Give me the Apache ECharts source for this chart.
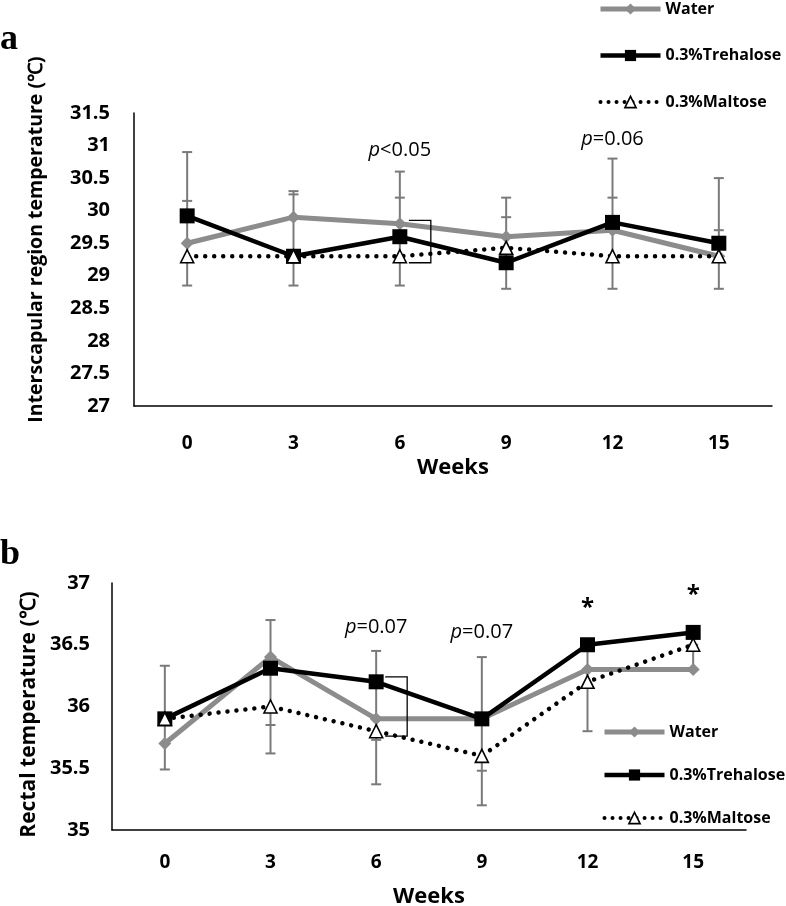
<!DOCTYPE html>
<html>
<head>
<meta charset="utf-8">
<script src="https://cdn.jsdelivr.net/npm/echarts@6/dist/echarts.min.js"></script>
<style>html,body{margin:0;padding:0;background:#fff}#c{width:786px;height:906px}</style>
</head>
<body>
<div id="c"></div>
<script>
// ---- data ----
const weeks = ['0', '3', '6', '9', '12', '15'];
const seriesNames = ['Water', '0.3%Trehalose', '0.3%Maltose'];

// Panel a: interscapular region temperature
const waterA = [29.5, 29.9, 29.8, 29.6, 29.7, 29.3];
const trehaloseA = [29.92, 29.3, 29.6, 29.2, 29.82, 29.5];
const maltoseA = [29.3, 29.3, 29.3, 29.43, 29.3, 29.3];
const errCapsA = [[30.9, 30.15, 28.85], [30.3, 30.25, 28.85], [30.6, 30.2, 28.85], [30.2, 29.9, 28.8], [30.8, 30.2, 28.8], [30.5, 29.7, 28.8]];
const bracketA = [[2, 29.85, 29.2]];
const pNotesA = [[2, 30.93, '<0.05'], [4, 31.09, '=0.06']];

// Panel b: rectal temperature
const waterB = [35.7, 36.4, 35.9, 35.9, 36.3, 36.3];
const trehaloseB = [35.9, 36.31, 36.2, 35.9, 36.5, 36.6];
const maltoseB = [35.9, 36.0, 35.8, 35.6, 36.2, 36.5];
const errCapsB = [[36.33, 35.49], [36.7, 35.85, 35.62], [36.45, 35.73, 35.37], [36.4, 35.48, 35.2], [36.5, 35.8], [36.5, 36.3]];
const bracketB = [[2, 36.24, 35.76]];
const pNotesB = [[2, 36.64, '=0.07'], [3, 36.6, '=0.07']];
const starsB = [[4, 36.8], [5, 36.9]];

const yTicksA = {min: 27, max: 31.5, interval: 0.5};
const yTicksB = {min: 35, max: 37, interval: 0.5};

// ---- styles ----
const FONT = 'Open Sans';
const GRAY = '#8c8c8c';
const ERR = '#7a7a7a';

function lineSeries(name, data, gi) {
  const base = {
    name: name, type: 'line', data: data, xAxisIndex: gi, yAxisIndex: gi,
    animation: false, showSymbol: true
  };
  if (name === 'Water') {
    return Object.assign(base, {symbol: 'diamond', symbolSize: 13, z: 3,
      lineStyle: {color: GRAY, width: 5}, itemStyle: {color: GRAY}});
  }
  if (name === '0.3%Trehalose') {
    return Object.assign(base, {symbol: 'rect', symbolSize: 15, z: 4,
      lineStyle: {color: '#000', width: 4.5}, itemStyle: {color: '#000'}});
  }
  return Object.assign(base, {symbol: 'triangle', symbolSize: 13, z: 5,
    lineStyle: {color: '#000', width: 4.5, type: [0.01, 9], cap: 'round'},
    itemStyle: {color: '#fff', borderColor: '#000', borderWidth: 1.6}});
}

function errSeries(caps, gi) {
  return {
    type: 'custom', xAxisIndex: gi, yAxisIndex: gi, z: 2, animation: false, silent: true,
    data: caps.map((c, i) => [i, Math.min.apply(null, c), Math.max.apply(null, c)]),
    renderItem: function (params, api) {
      const i = api.value(0);
      const lo = api.coord([i, api.value(1)]);
      const hi = api.coord([i, api.value(2)]);
      const children = [{type: 'line', shape: {x1: lo[0], y1: lo[1], x2: hi[0], y2: hi[1]},
        style: {stroke: ERR, lineWidth: 2}}];
      caps[params.dataIndex].forEach(v => {
        const p = api.coord([i, v]);
        children.push({type: 'line', shape: {x1: p[0] - 5, y1: p[1], x2: p[0] + 5, y2: p[1]},
          style: {stroke: ERR, lineWidth: 2}});
      });
      return {type: 'group', children: children};
    }
  };
}

function bracketSeries(data, gi) {
  return {
    type: 'custom', xAxisIndex: gi, yAxisIndex: gi, z: 6, animation: false, silent: true,
    data: data,
    renderItem: function (params, api) {
      const t = api.coord([api.value(0), api.value(1)]);
      const b = api.coord([api.value(0), api.value(2)]);
      return {type: 'polyline', shape: {points: [[t[0] + 9, t[1]], [t[0] + 31, t[1]], [t[0] + 31, b[1]], [t[0] + 9, b[1]]]},
        style: {stroke: '#000', lineWidth: 1.3, fill: null}};
    }
  };
}

function noteSeries(data, gi) {
  return {
    type: 'scatter', xAxisIndex: gi, yAxisIndex: gi, symbolSize: 0, z: 7, animation: false, silent: true,
    itemStyle: {opacity: 1},
    data: data.map(d => ({value: [d[0], d[1]], note: d[2]})),
    label: {show: true, position: 'inside', color: '#000', opacity: 1, textBorderWidth: 0,
      formatter: p => '{i|p}{n|' + p.data.note + '}',
      rich: {
        i: {fontFamily: FONT, fontStyle: 'italic', fontSize: 20, color: '#000'},
        n: {fontFamily: FONT, fontSize: 20, color: '#000'}
      }}
  };
}

function starSeries(data, gi) {
  return {
    type: 'scatter', xAxisIndex: gi, yAxisIndex: gi, symbolSize: 0, z: 7, animation: false, silent: true,
    itemStyle: {opacity: 1},
    data: data,
    label: {show: true, position: 'inside', formatter: '*', fontFamily: FONT, fontWeight: 'bold',
      fontSize: 24, color: '#000', opacity: 1, textBorderWidth: 0}
  };
}

const axisLine = {show: true, lineStyle: {color: '#000', width: 1.5}};
const tickFont = {fontFamily: FONT, fontWeight: 'bold', color: '#000'};
const nameFont = {fontFamily: FONT, fontWeight: 'bold', color: '#000'};

function xAxis(gi, margin, gap) {
  return {type: 'category', gridIndex: gi, data: weeks, boundaryGap: true,
    axisLine: axisLine, axisTick: {show: false}, splitLine: {show: false},
    axisLabel: Object.assign({fontSize: 19, margin: margin}, tickFont),
    name: 'Weeks', nameLocation: 'middle', nameGap: gap,
    nameTextStyle: Object.assign({fontSize: 22}, nameFont)};
}

const legendItems = [
  {name: 'Water', lineStyle: {color: GRAY, width: 5}, itemStyle: {color: GRAY}},
  {name: '0.3%Trehalose', lineStyle: {color: '#000', width: 4.5}, itemStyle: {color: '#000'}},
  {name: '0.3%Maltose', lineStyle: {color: '#000', width: 4, type: [0.01, 8], cap: 'round'},
    itemStyle: {color: '#fff', borderColor: '#000', borderWidth: 1.6}}
];

const legendBase = {
  data: legendItems, orient: 'vertical', itemWidth: 60, itemHeight: 14,
  selectedMode: false,
  textStyle: {fontFamily: FONT, fontWeight: 'bold', fontSize: 16, color: '#000', lineHeight: 16}
};

const option = {
  backgroundColor: '#fff',
  animation: false,
  grid: [
    {left: 134, right: 14, top: 113, height: 293, outerBoundsMode: 'none', containLabel: false},
    {left: 112, right: 40, top: 583, height: 247, outerBoundsMode: 'none', containLabel: false}
  ],
  legend: [
    Object.assign({left: 593, top: -4, itemGap: 30.5}, legendBase),
    Object.assign({left: 597, top: 719, itemGap: 27}, legendBase)
  ],
  xAxis: [xAxis(0, 28, 51), xAxis(1, 23, 56)],
  yAxis: [
    Object.assign({type: 'value', gridIndex: 0, axisLine: axisLine, axisTick: {show: false}, splitLine: {show: false},
      axisLabel: Object.assign({fontSize: 20, margin: 24}, tickFont),
      name: 'Interscapular region temperature (℃)', nameLocation: 'middle', nameRotate: 90, nameGap: 88,
      nameTextStyle: Object.assign({fontSize: 19.5, padding: [0, 0, 0, 40]}, nameFont)}, yTicksA),
    Object.assign({type: 'value', gridIndex: 1, axisLine: axisLine, axisTick: {show: false}, splitLine: {show: false},
      axisLabel: Object.assign({fontSize: 20, margin: 22}, tickFont),
      name: 'Rectal temperature (℃)', nameLocation: 'middle', nameRotate: 90, nameGap: 68,
      nameTextStyle: Object.assign({fontSize: 21, padding: [0, 16, 0, 0]}, nameFont)}, yTicksB)
  ],
  graphic: [
    {type: 'text', left: 0, top: 22, style: {text: 'a', font: 'bold 36px "Liberation Serif"', fill: '#000'}},
    {type: 'text', left: 0, top: 537, style: {text: 'b', font: 'bold 36px "Liberation Serif"', fill: '#000'}}
  ],
  series: [
    errSeries(errCapsA, 0),
    lineSeries('Water', waterA, 0),
    lineSeries('0.3%Trehalose', trehaloseA, 0),
    lineSeries('0.3%Maltose', maltoseA, 0),
    bracketSeries(bracketA, 0),
    noteSeries(pNotesA, 0),
    errSeries(errCapsB, 1),
    lineSeries('Water', waterB, 1),
    lineSeries('0.3%Trehalose', trehaloseB, 1),
    lineSeries('0.3%Maltose', maltoseB, 1),
    bracketSeries(bracketB, 1),
    noteSeries(pNotesB, 1),
    starSeries(starsB, 1)
  ]
};

const chart = echarts.init(document.getElementById('c'), null, {renderer: 'canvas'});
chart.setOption(option);
</script>
</body>
</html>
